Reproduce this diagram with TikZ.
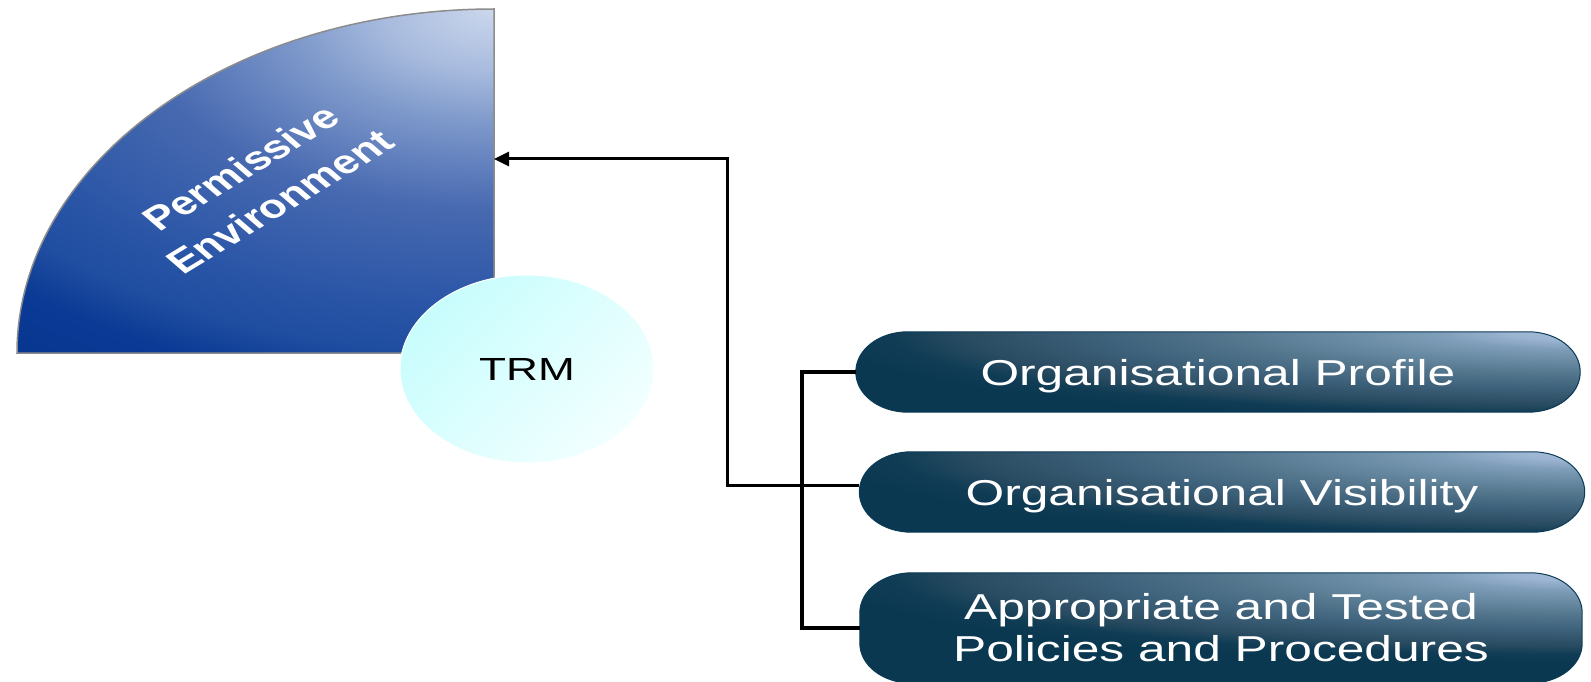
\documentclass[tikz,border=0pt]{standalone}
\usepackage{graphicx}
\usepackage{fontspec}
\setmainfont{Liberation Sans}
\usetikzlibrary{arrows.meta,shapes.geometric,backgrounds}

\definecolor{pegrey}{HTML}{8C8C8C}
\definecolor{trmcyan}{HTML}{C8FDFD}
\definecolor{trmlight}{HTML}{F2FFFF}
\definecolor{boxedge}{HTML}{0B3B55}

% light corner at the top right, darker outwards
\pgfdeclareradialshading{pegrad}{\pgfpointorigin}{color(0bp)=(rgb,255:red,203;green,215;blue,236);
  color(2.5bp)=(rgb,255:red,168;green,187;blue,222); color(4.5bp)=(rgb,255:red,127;green,154;blue,203);
  color(6.25bp)=(rgb,255:red,99;green,129;blue,190); color(8.1bp)=(rgb,255:red,71;green,105;blue,176);
  color(11.9bp)=(rgb,255:red,43;green,86;blue,167); color(13.9bp)=(rgb,255:red,31;green,77;blue,160);
  color(15.5bp)=(rgb,255:red,10;green,58;blue,149); color(18.75bp)=(rgb,255:red,6;green,52;blue,143);
  color(50bp)=(rgb,255:red,6;green,52;blue,143)}
\pgfdeclareradialshading{boxgrad}{\pgfpointorigin}{color(0bp)=(rgb,255:red,168;green,190;blue,220);
  color(1.1bp)=(rgb,255:red,156;green,181;blue,211); color(2.4bp)=(rgb,255:red,126;green,157;blue,184);
  color(5.6bp)=(rgb,255:red,85;green,120;blue,143); color(7.75bp)=(rgb,255:red,62;green,98;blue,123);
  color(10bp)=(rgb,255:red,42;green,76;blue,98); color(11.25bp)=(rgb,255:red,16;green,61;blue,85);
  color(12.5bp)=(rgb,255:red,10;green,56;blue,80); color(50bp)=(rgb,255:red,6;green,54;blue,79)}

\newcommand{\wide}[1]{\scalebox{1.38}[1]{#1}}
\newcommand{\boxpath}[1]{([xshift=52pt]#1.north west) -- ([xshift=-52pt]#1.north east)
    arc[start angle=90,end angle=0,x radius=52pt,y radius=40pt]
    -- ([yshift=40pt]#1.south east)
    arc[start angle=0,end angle=-90,x radius=52pt,y radius=40pt]
    -- ([xshift=52pt]#1.south west)
    arc[start angle=270,end angle=180,x radius=52pt,y radius=40pt]
    -- ([yshift=-40pt]#1.north west)
    arc[start angle=180,end angle=90,x radius=52pt,y radius=40pt] -- cycle}

\begin{document}
\begin{tikzpicture}[x=1pt,y=-1pt,>={Triangle[length=15pt,width=14pt]},
  conn/.style={line width=3.5pt},
  boxtext/.style={rectangle,inner sep=0pt,text=white,align=center,font=\fontsize{36}{42}\selectfont}]
\useasboundingbox (0,0) rectangle (1591,682);

\begin{scope}
\clip (494,353) -- (17,353) arc[start angle=180,end angle=90,x radius=477pt,y radius=344pt] -- cycle;
\shade[shading=pegrad] (-626,-611) rectangle (1614,629);
\end{scope}
\draw[pegrey,line width=1.5pt]
  (494,353) -- (17,353) arc[start angle=180,end angle=90,x radius=477pt,y radius=344pt] -- cycle;
\coordinate (pe) at (494,159);
\node[text=white,font=\bfseries\fontsize{33}{44}\selectfont] (pelabel) at (263,187)
  {\wide{\rotatebox{40}{\begin{tabular}{@{}c@{}}Permissive\\Environment\end{tabular}}}};

\node[ellipse,minimum width=254pt,minimum height=188pt,draw=white,line width=1pt,
  top color=trmlight,bottom color=trmcyan,shading angle=-135,font=\fontsize{32}{36}\selectfont] (trm) at (527,369) {\wide{TRM}};

\node[boxtext,text depth=0pt,minimum width=724pt,minimum height=80pt] (op) at (1218,372) {\wide{Organisational Profile}};
\node[boxtext,text depth=0pt,minimum width=725pt,minimum height=80pt] (ov) at (1222,492) {\wide{Organisational Visibility}};
\node[boxtext,minimum width=722pt,minimum height=110pt] (apt) at (1221,628) {\wide{Appropriate and Tested}\\\wide{Policies and Procedures}};

\begin{scope}[on background layer]
\foreach \b in {op,ov,apt} {
  \begin{scope}
  \clip \boxpath{\b};
  \shade[shading=boxgrad] ([xshift=-1530pt,yshift=-180pt]\b.north east) rectangle ([xshift=1530pt,yshift=180pt]\b.north east);
  \end{scope}
  \draw[boxedge,line width=1pt] \boxpath{\b};
}
\end{scope}

\draw[conn] (op.west) -- ++(-54,0) |- (apt.west);
\draw[->,line width=3pt] ([yshift=7pt]ov.west) -- ++(-132,0) |- (pe);
\end{tikzpicture}
\end{document}
